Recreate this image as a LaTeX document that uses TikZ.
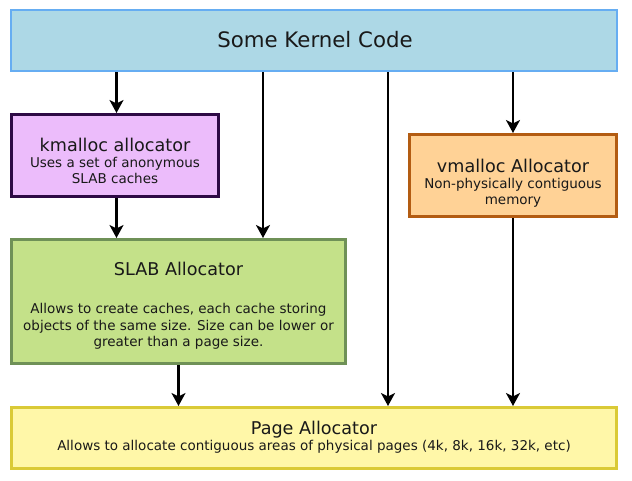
\documentclass[tikz,border=0pt]{standalone}
\usepackage{fontspec}
\setmainfont{DejaVu Sans}
\usetikzlibrary{arrows.meta}

\definecolor{codefill}{HTML}{ADD8E6}
\definecolor{codeline}{HTML}{66ADF2}
\definecolor{kmalfill}{HTML}{ECBCFB}
\definecolor{kmalline}{HTML}{2E0A45}
\definecolor{vmalfill}{HTML}{FFD296}
\definecolor{vmalline}{HTML}{B35C12}
\definecolor{slabfill}{HTML}{C4E189}
\definecolor{slabline}{HTML}{6F9157}
\definecolor{pagefill}{HTML}{FFF7A8}
\definecolor{pageline}{HTML}{DACA36}

\newcommand{\boxhead}{\fontsize{17.6}{20}\selectfont}

\begin{document}
\begin{tikzpicture}[x=1pt, y=-1pt, >={Stealth[length=13pt, width=14pt, inset=3.5pt]},
  box/.style={rectangle, draw, line width=3pt, inner sep=0pt},
  boxtext/.style={inner sep=0pt, align=center, text=black!90, font=\fontsize{13.5}{16.7}\selectfont}]
  \useasboundingbox (0, 0) rectangle (632, 481);

  % boxes
  \node (code) [box, fill=codefill, draw=codeline, line width=2.5pt, minimum width=606, minimum height=61] at (314, 40.5) {};
  \node (kmal) [box, fill=kmalfill, draw=kmalline, minimum width=207, minimum height=82] at (115, 155.5) {};
  \node (vmal) [box, fill=vmalfill, draw=vmalline, minimum width=207, minimum height=82] at (513, 175.5) {};
  \node (slab) [box, fill=slabfill, draw=slabline, minimum width=334, minimum height=124] at (178.5, 301.5) {};
  \node (page) [box, fill=pagefill, draw=pageline, minimum width=605, minimum height=61] at (314, 438) {};

  % texts
  \node (codetext) [boxtext] at (315, 39.6) {\fontsize{21.3}{25}\selectfont Some Kernel Code};
  \node (kmaltext) [boxtext] at (115, 161.2) {\boxhead kmalloc allocator\\[-1pt] Uses a set of anonymous\\ SLAB caches};
  \node (vmaltext) [boxtext] at (513, 183.2) {\boxhead vmalloc Allocator\\[-0.7pt] Non-physically contiguous\\ memory};
  \node (slabtext) [boxtext] at (178.5, 305.8) {\boxhead SLAB Allocator\\[21.3pt] Allows to create caches, each cache storing\\ objects of the same size. Size can be lower or\\ greater than a page size.};
  \node (pagetext) [boxtext] at (314, 436.9) {\boxhead Page Allocator\\[-0.7pt] Allows to allocate contiguous areas of physical pages (4k, 8k, 16k, 32k, etc)};

  \coordinate (slabin) at ([xshift=84.5pt]slab.north);
  \coordinate (pagein) at ([xshift=74pt]page.north);

  \draw[->, line width=2.6pt] ([xshift=1.5pt]code.south -| kmal.north) -- ([xshift=1.5pt]kmal.north);
  \draw[->, line width=2.6pt] ([xshift=1.5pt]kmal.south) -- ([xshift=1.5pt]kmal.south |- slab.north);
  \draw[->, line width=2.6pt] (code.south -| slabin) -- (slabin);
  \draw[->, line width=2.6pt] (code.south -| pagein) -- (pagein);
  \draw[->, line width=2.6pt] (code.south -| vmal.north) -- (vmal.north);
  \draw[->, line width=2.6pt] (vmal.south) -- (vmal.south |- page.north);
  \draw[->, line width=2.6pt] (slab.south) -- (slab.south |- page.north);
\end{tikzpicture}
\end{document}
